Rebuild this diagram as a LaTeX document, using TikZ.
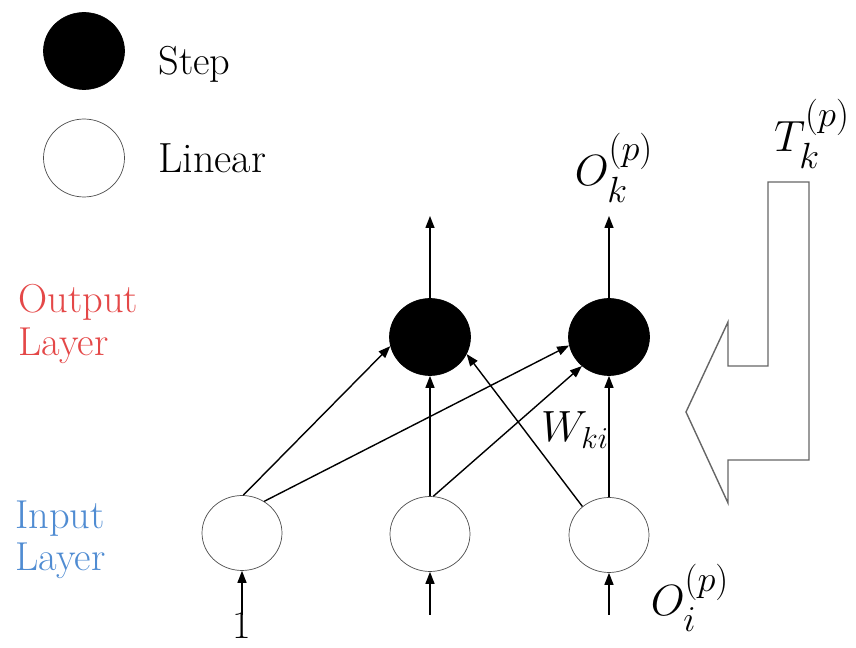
\documentclass[tikz,border=0pt]{standalone}
\usepackage{amsmath}
\usepackage{xcolor}
\usepackage{tikz}
\usetikzlibrary{arrows.meta,shapes.geometric}
\definecolor{outred}{RGB}{228,72,72}
\definecolor{inblue}{RGB}{80,140,210}

\begin{document}
\begin{tikzpicture}[
	x=0.02cm, y=-0.02cm,
	every node/.style={font=\fontsize{23}{24}\selectfont},
	stepnode/.style={ellipse, draw, fill=black, minimum width=1.62cm, minimum height=1.54cm, inner sep=0pt},
	linnode/.style={ellipse, draw=black!70, fill=white, minimum width=1.6cm, minimum height=1.5cm, inner sep=0pt},
	txt/.style={inner sep=0pt, align=left},
	lab/.style={inner sep=0pt, font=\fontsize{30}{34}\selectfont},
	arrow/.style={-{Triangle[length=2.4mm,width=1.8mm]}, line width=0.8pt},
	hollow/.style={draw=black!60, line width=0.8pt, line join=miter}
	]
	
	\useasboundingbox (0,0) rectangle (856,648);
	
	\node[stepnode] (legstep) at (84,51) {};
	\node[linnode, minimum width=1.62cm, minimum height=1.56cm] (leglin) at (84,158) {};
	\node[txt, anchor=base west] (legsteptxt) at (158,75) {Step};
	\node[txt, anchor=base west, font=\fontsize{24}{26}\selectfont] (leglintxt) at (158,173) {Linear};
	
	\node[txt, text=outred, anchor=west] (outtxt) at (18,324) {Output\\Layer};
	\node[txt, text=inblue, anchor=west] (intxt) at (15,540) {Input\\Layer};
	
	\node[stepnode] (out1) at (430,337) {};
	\node[stepnode] (out2) at (609,337) {};
	\node[linnode] (in1) at (242,533) {};
	\node[linnode] (in2) at (430,534) {};
	\node[linnode] (in3) at (609,535) {};
	
	\coordinate (top1) at (430,216);
	\coordinate (top2) at (609,216);
	\coordinate (bot1) at (242,615);
	\coordinate (bot2) at (430,615);
	\coordinate (bot3) at (609,615);
	
	\draw[arrow] (out1.north) -- (top1);
	\draw[arrow] (out2.north) -- (top2);
	
	\draw[arrow] (in1.88) -- (out1.193);
	\draw[arrow] (in1.55) -- (out2.192);
	\draw[arrow] (in2.north) -- (out1.south);
	\draw[arrow] (in2.85) -- (out2.227);
	\draw[arrow] (in3.133) -- (out1.335);
	\draw[arrow] (in3.north) -- (out2.south);
	
	\draw[arrow] (bot1) -- (in1.south);
	\draw[arrow] (bot2) -- (in2.south);
	\draw[arrow] (bot3) -- (in3.south);
	
	\draw[hollow] (768,182) -- (809,182) -- (809,460) -- (728,460) -- (728,503) -- (686,412) -- (728,322) -- (728,366) -- (768,366) -- cycle;
	
	\node[lab] (ok) at (614,168) {$O_k^{(p)}$};
	\node[lab] (tk) at (812,134) {$T_k^{(p)}$};
	\node[lab, font=\fontsize{25}{30}\selectfont] (wki) at (575,430) {$W_{ki}$};
	\node[lab] (oi) at (690,598) {$O_i^{(p)}$};
	\node[anchor=base, inner sep=0pt] (one) at (242,639) {1};
	
\end{tikzpicture}
\end{document}
